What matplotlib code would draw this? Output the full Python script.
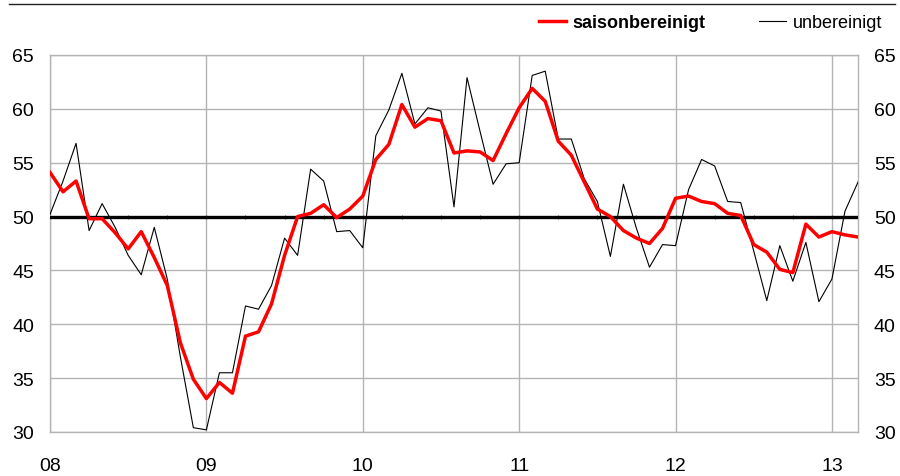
import numpy as np
import matplotlib
matplotlib.use("Agg")
import matplotlib.pyplot as plt
from matplotlib.lines import Line2D

plt.rcParams['font.family'] = ['Liberation Sans', 'DejaVu Sans']

# monthly values, Jan 2008 .. Mar 2013
year_labels = ['08', '09', '10', '11', '12', '13']
saisonbereinigt = [54.1, 52.3, 53.3, 49.8, 49.8, 48.5, 47.0, 48.6, 46.2, 43.6,
                   38.3, 34.9, 33.1, 34.6, 33.6, 38.9, 39.3, 41.9, 46.4, 50.0,
                   50.3, 51.1, 49.9, 50.7, 51.9, 55.3, 56.7, 60.4, 58.3, 59.1,
                   58.9, 55.9, 56.1, 56.0, 55.2, 57.7, 60.1, 61.9, 60.7, 57.0,
                   55.7, 53.2, 50.7, 50.0, 48.7, 48.0, 47.5, 48.9, 51.7, 51.9,
                   51.4, 51.2, 50.3, 50.1, 47.4, 46.7, 45.1, 44.8, 49.3, 48.1,
                   48.6, 48.3, 48.1]
unbereinigt = [50.2, 53.3, 56.8, 48.7, 51.2, 49.0, 46.4, 44.6, 49.0, 44.2,
               37.0, 30.4, 30.2, 35.5, 35.5, 41.7, 41.4, 43.6, 48.0, 46.4,
               54.4, 53.3, 48.6, 48.7, 47.1, 57.5, 59.9, 63.3, 58.6, 60.1,
               59.8, 50.9, 62.9, 57.9, 53.0, 54.9, 55.0, 63.1, 63.5, 57.2,
               57.2, 53.5, 51.4, 46.3, 53.0, 48.9, 45.3, 47.4, 47.3, 52.5,
               55.3, 54.7, 51.4, 51.3, 46.8, 42.2, 47.3, 44.0, 47.6, 42.1,
               44.2, 50.5, 53.2]
threshold = 50

x = np.arange(len(saisonbereinigt))
year_pos = [i * 12 for i in range(len(year_labels))]

fig = plt.figure(figsize=(9, 4.77), dpi=100)
ax = fig.add_axes([50 / 900, 1 - 433 / 477, 808 / 900, 377 / 477])

grid_col = '#b4b4b4'
ax.set_xlim(0, len(x) - 1)
ax.set_ylim(30, 65)
ax.set_yticks(np.arange(30, 66, 5))
ax.set_xticks(year_pos)
ax.set_xticklabels(year_labels)
ax.grid(True, color=grid_col, linewidth=1.0)
for s in ax.spines.values():
    s.set_color(grid_col)
    s.set_linewidth(1.0)

ax.tick_params(axis='y', length=0, labelsize=14, pad=11.5,
               labelleft=True, labelright=True)
ax.tick_params(axis='x', length=0, labelsize=14, pad=18)

# 50 line with small quarterly notches
ax.axhline(threshold, color='black', linewidth=2.4, zorder=3)
q = x[::3]
ax.plot(q, [threshold] * len(q), linestyle='none', marker='|',
        markersize=3.5, color='#555555', markeredgewidth=0.8, zorder=2)

ax.plot(x, unbereinigt, color='black', linewidth=0.8, zorder=4)
ax.plot(x, saisonbereinigt, color='#ff0000', linewidth=2.5, zorder=5)

# top rule
fig.add_artist(Line2D([9 / 900, 895 / 900], [1 - 5 / 477] * 2,
                      color='#222222', linewidth=1.0))

handles = [Line2D([], [], color='#ff0000', linewidth=2.5),
           Line2D([], [], color='black', linewidth=0.8)]
leg = fig.legend(handles, ['saisonbereinigt', 'unbereinigt'], ncol=2,
                 loc='center right', bbox_to_anchor=(882 / 900, 1 - 24 / 477),
                 frameon=False, fontsize=13, handlelength=1.5,
                 handletextpad=0.35, columnspacing=3.0,
                 borderpad=0, borderaxespad=0)
leg.get_texts()[0].set_fontweight('bold')

fig.savefig('out.png', dpi=100)
